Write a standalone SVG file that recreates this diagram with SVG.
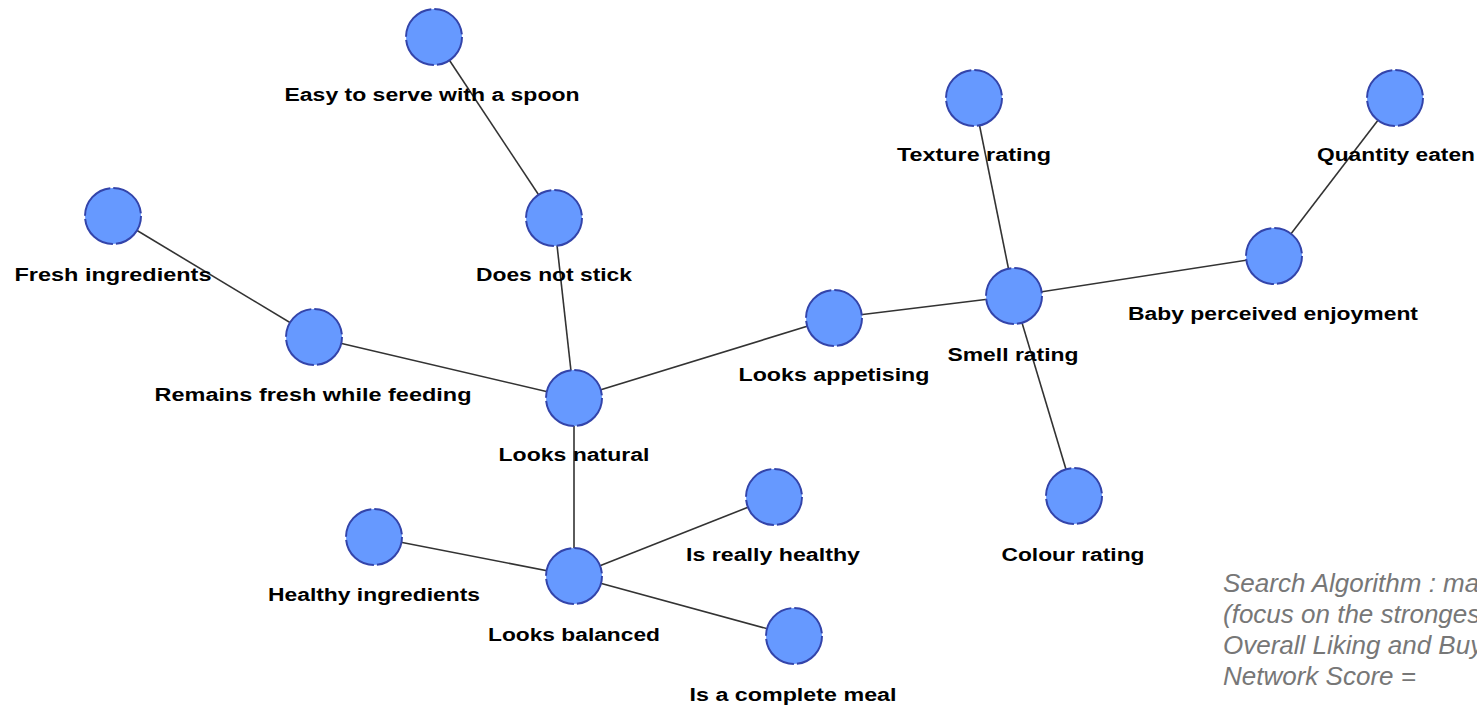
<svg xmlns="http://www.w3.org/2000/svg" width="1477" height="706" viewBox="0 0 1477 706">
  <style>
    .edge { stroke: #333333; stroke-width: 1.6; fill: none; }
    .node circle { fill: #6699FF; stroke: #3344AA; stroke-width: 2; stroke-dasharray: 41 3; }
    .node text { font-family: "Liberation Sans", Arial, sans-serif; font-weight: bold; font-size: 18px; fill: #000000; text-anchor: middle; }
    .note { font-family: "Liberation Sans", Arial, sans-serif; font-style: italic; font-size: 26px; fill: #777777; }
  </style>
  <rect width="1477" height="706" fill="#FFFFFF"/>

  <g id="connectors">
    <line class="edge" x1="434" y1="37" x2="554" y2="218"/>
    <line class="edge" x1="554" y1="218" x2="574" y2="398"/>
    <line class="edge" x1="113" y1="216" x2="314" y2="337"/>
    <line class="edge" x1="314" y1="337" x2="574" y2="398"/>
    <line class="edge" x1="574" y1="398" x2="834" y2="318"/>
    <line class="edge" x1="834" y1="318" x2="1014" y2="296"/>
    <line class="edge" x1="1014" y1="296" x2="974" y2="98"/>
    <line class="edge" x1="1014" y1="296" x2="1274" y2="256"/>
    <line class="edge" x1="1274" y1="256" x2="1395" y2="98"/>
    <line class="edge" x1="1014" y1="296" x2="1074" y2="496"/>
    <line class="edge" x1="574" y1="398" x2="574" y2="576"/>
    <line class="edge" x1="574" y1="576" x2="374" y2="537"/>
    <line class="edge" x1="574" y1="576" x2="774" y2="497"/>
    <line class="edge" x1="574" y1="576" x2="794" y2="636"/>
  </g>

  <g id="node-easy-to-serve" class="node">
    <circle cx="434" cy="37" r="28"/>
    <text x="432" y="101" textLength="295" lengthAdjust="spacingAndGlyphs">Easy to serve with a spoon</text>
  </g>
  <g id="node-does-not-stick" class="node">
    <circle cx="554" cy="218" r="28"/>
    <text x="554" y="281" textLength="156" lengthAdjust="spacingAndGlyphs">Does not stick</text>
  </g>
  <g id="node-fresh-ingredients" class="node">
    <circle cx="113" cy="216" r="28"/>
    <text x="113" y="281" textLength="197" lengthAdjust="spacingAndGlyphs">Fresh ingredients</text>
  </g>
  <g id="node-remains-fresh" class="node">
    <circle cx="314" cy="337" r="28"/>
    <text x="313" y="401" textLength="317" lengthAdjust="spacingAndGlyphs">Remains fresh while feeding</text>
  </g>
  <g id="node-looks-natural" class="node">
    <circle cx="574" cy="398" r="28"/>
    <text x="574" y="461" textLength="151" lengthAdjust="spacingAndGlyphs">Looks natural</text>
  </g>
  <g id="node-looks-appetising" class="node">
    <circle cx="834" cy="318" r="28"/>
    <text x="834" y="381" textLength="191" lengthAdjust="spacingAndGlyphs">Looks appetising</text>
  </g>
  <g id="node-smell-rating" class="node">
    <circle cx="1014" cy="296" r="28"/>
    <text x="1013" y="361" textLength="131" lengthAdjust="spacingAndGlyphs">Smell rating</text>
  </g>
  <g id="node-texture-rating" class="node">
    <circle cx="974" cy="98" r="28"/>
    <text x="974" y="161" textLength="154" lengthAdjust="spacingAndGlyphs">Texture rating</text>
  </g>
  <g id="node-quantity-eaten" class="node">
    <circle cx="1395" cy="98" r="28"/>
    <text x="1396" y="161" textLength="158" lengthAdjust="spacingAndGlyphs">Quantity eaten</text>
  </g>
  <g id="node-baby-enjoyment" class="node">
    <circle cx="1274" cy="256" r="28"/>
    <text x="1273" y="320" textLength="290" lengthAdjust="spacingAndGlyphs">Baby perceived enjoyment</text>
  </g>
  <g id="node-colour-rating" class="node">
    <circle cx="1074" cy="496" r="28"/>
    <text x="1073" y="561" textLength="143" lengthAdjust="spacingAndGlyphs">Colour rating</text>
  </g>
  <g id="node-really-healthy" class="node">
    <circle cx="774" cy="497" r="28"/>
    <text x="773" y="561" textLength="174" lengthAdjust="spacingAndGlyphs">Is really healthy</text>
  </g>
  <g id="node-healthy-ingredients" class="node">
    <circle cx="374" cy="537" r="28"/>
    <text x="374" y="601" textLength="212" lengthAdjust="spacingAndGlyphs">Healthy ingredients</text>
  </g>
  <g id="node-looks-balanced" class="node">
    <circle cx="574" cy="576" r="28"/>
    <text x="574" y="641" textLength="172" lengthAdjust="spacingAndGlyphs">Looks balanced</text>
  </g>
  <g id="node-complete-meal" class="node">
    <circle cx="794" cy="636" r="28"/>
    <text x="793" y="701" textLength="207" lengthAdjust="spacingAndGlyphs">Is a complete meal</text>
  </g>

  <g id="notes">
    <text class="note" x="1223" y="592">Search Algorithm : ma</text>
    <text class="note" x="1223" y="623">(focus on the stronges</text>
    <text class="note" x="1223" y="654">Overall Liking and Buy</text>
    <text class="note" x="1223" y="685">Network Score =</text>
  </g>
</svg>
